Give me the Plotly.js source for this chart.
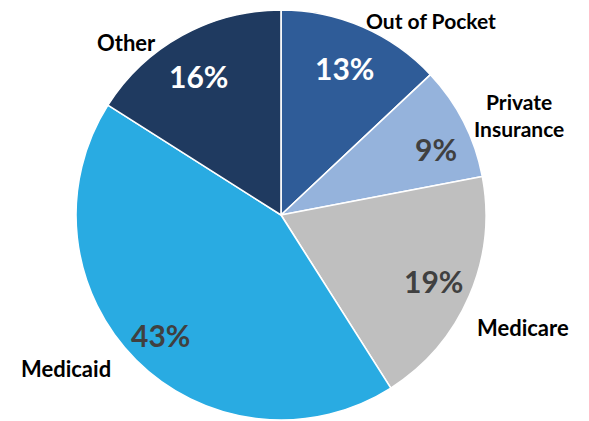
<!DOCTYPE html>
<html>
<head>
<meta charset="utf-8">
<script src="https://cdn.plot.ly/plotly-3.0.1.min.js"></script>
<style>html,body{margin:0;padding:0;background:#fff;}#chart{width:589px;height:421px;}</style>
</head>
<body>
<div id="chart"></div>
<script>
const categories = ["Out of Pocket", "Private Insurance", "Medicare", "Medicaid", "Other"];
const labelText = ["Out of Pocket", "Private<br>Insurance", "Medicare", "Medicaid", "Other"];
const values = [13, 9, 19, 43, 16];
const colors = ["#2F5C98", "#95B3DC", "#BFBFBF", "#29ABE2", "#1F3A60"];
const pctColors = ["#FFFFFF", "#404040", "#404040", "#404040", "#FFFFFF"];

const W = 589, H = 421;
const cx = 281, cy = 215, R = 205;
// outside label anchor positions (pixels) - layout only
const labelPos = [[431, 20], [519, 115], [523, 327], [66, 368], [126, 42]];
const labelSize = [21, 21, 22, 22, 22];
const pctRadius = [0.78, 0.82, 0.81, 0.83, 0.79];
const pctShift = [0, 4, 0, 0, -2]; // small angular shift in degrees

const total = values.reduce((a, b) => a + b, 0);
const annotations = [];
let cum = 0;
values.forEach((v, i) => {
  const mid = (cum + v / 2) / total * 2 * Math.PI + pctShift[i] * Math.PI / 180;
  cum += v;
  const px = cx + pctRadius[i] * R * Math.sin(mid);
  const py = cy - pctRadius[i] * R * Math.cos(mid);
  annotations.push({
    x: px / W, y: 1 - py / H, xref: "paper", yref: "paper",
    text: "<b>" + Math.round(v / total * 100) + "%</b>", showarrow: false,
    xanchor: "center", yanchor: "middle",
    font: {family: "Lato, 'Open Sans', sans-serif", size: 30, color: pctColors[i]}
  });
  annotations.push({
    x: labelPos[i][0] / W, y: 1 - labelPos[i][1] / H, xref: "paper", yref: "paper",
    text: "<b>" + labelText[i] + "</b>", showarrow: false,
    xanchor: "center", yanchor: "middle", align: "center",
    font: {family: "Lato, 'Open Sans', sans-serif", size: labelSize[i], color: "#000000"}
  });
});

const trace = {
  type: "pie",
  labels: categories,
  values: values,
  sort: false,
  direction: "clockwise",
  rotation: 0,
  textinfo: "none",
  hoverinfo: "label+percent",
  marker: {colors: colors, line: {color: "#FFFFFF", width: 1.6}},
  domain: {x: [(cx - R) / W, (cx + R) / W], y: [1 - (cy + R) / H, 1 - (cy - R) / H]}
};

const layout = {
  width: W, height: H,
  margin: {l: 0, r: 0, t: 0, b: 0},
  showlegend: false,
  paper_bgcolor: "#FFFFFF",
  annotations: annotations
};

Plotly.newPlot("chart", [trace], layout, {displayModeBar: false, staticPlot: true});
</script>
</body>
</html>
